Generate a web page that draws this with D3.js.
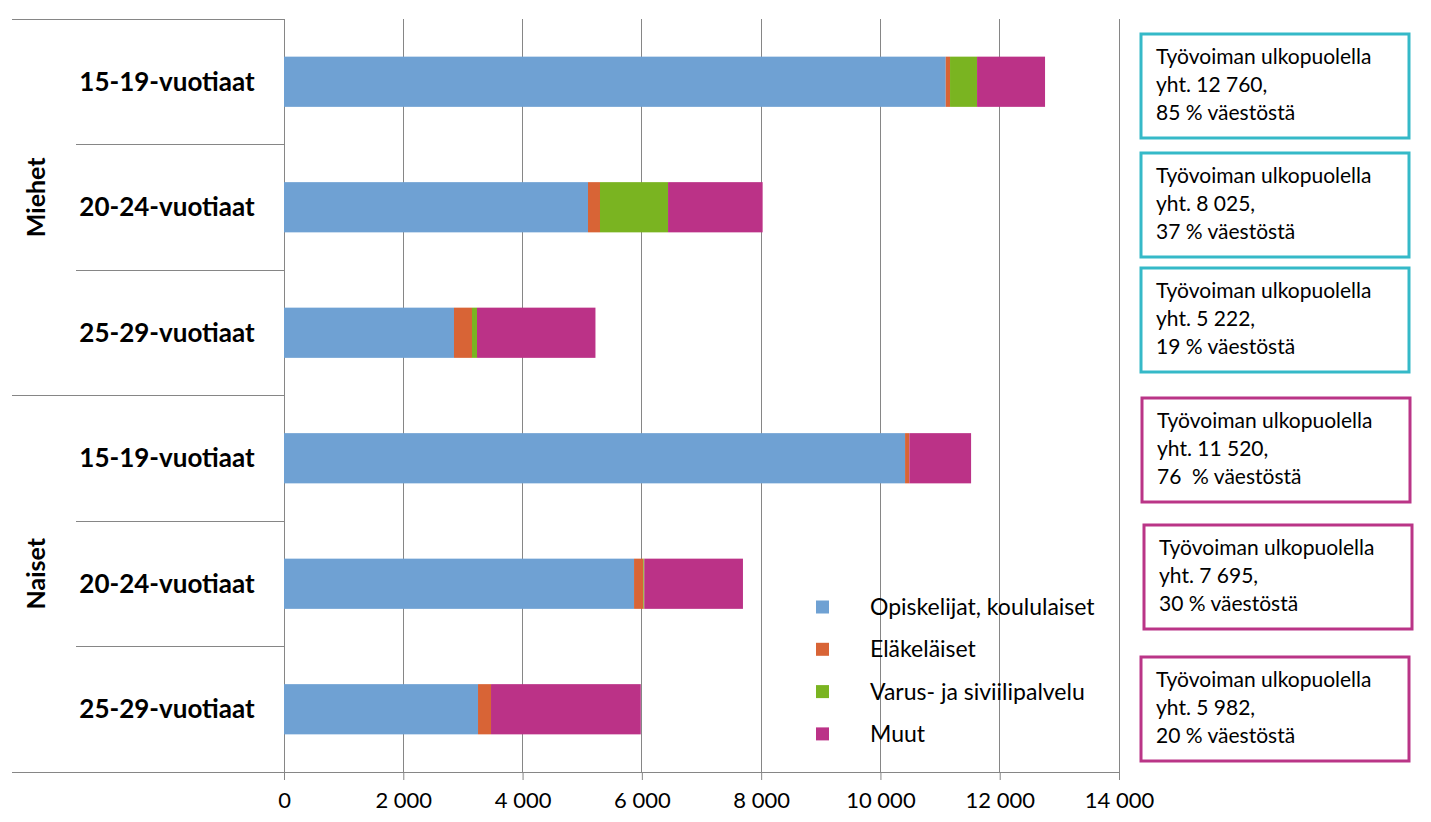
<!DOCTYPE html>
<html><head><meta charset="utf-8">
<script src="https://cdn.jsdelivr.net/npm/d3@7/dist/d3.min.js"></script>
<style>body{margin:0;background:#fff}svg{display:block}text{font-family:Lato,"Liberation Sans",sans-serif}</style>
</head><body><svg id="c" width="1431" height="822"></svg>
<script>
// ---- data ----
const groups = ["Miehet", "Naiset"];
const ageLabels = ["15-19-vuotiaat", "20-24-vuotiaat", "25-29-vuotiaat", "15-19-vuotiaat", "20-24-vuotiaat", "25-29-vuotiaat"];
const rowGroup = ["Miehet", "Miehet", "Miehet", "Naiset", "Naiset", "Naiset"];
const seriesNames = ["Opiskelijat, koululaiset", "Eläkeläiset", "Varus- ja siviilipalvelu", "Muut"];
const opiskelijat = [11095, 5097, 2850, 10413, 5869, 3253];
const elakelaiset = [72, 201, 302, 72, 156, 218];
const varus = [453, 1141, 84, 0, 15, 0];
const muut = [1140, 1586, 1986, 1035, 1655, 2511];
const seriesColors = ["#6fa1d3", "#d86436", "#7ab421", "#bb3287"];
const xTicks = [0, 2000, 4000, 6000, 8000, 10000, 12000, 14000];
const boxLine1 = ["Työvoiman ulkopuolella", "Työvoiman ulkopuolella", "Työvoiman ulkopuolella", "Työvoiman ulkopuolella", "Työvoiman ulkopuolella", "Työvoiman ulkopuolella"];
const boxLine2 = ["yht. 12 760,", "yht. 8 025,", "yht. 5 222,", "yht. 11 520,", "yht. 7 695,", "yht. 5 982,"];
const boxLine3 = ["85 % väestöstä", "37 % väestöstä", "19 % väestöstä", "76  % väestöstä", "30 % väestöstä", "20 % väestöstä"];
const boxColors = ["#35b9c8", "#35b9c8", "#35b9c8", "#ba3587", "#ba3587", "#ba3587"];

// ---- layout ----
const svg = d3.select("#c");
const L = 284, R = 1119, T = 19, B = 772;
const x = d3.scaleLinear().domain([0, 14000]).range([L, R]);
const rows = d3.range(6);
const y = d3.scaleBand().domain(rows).range([T, B]).paddingInner(0.6).paddingOuter(0.3);
const step = y.step();
const gridCol = "#868686";

// gridlines
svg.append("g").selectAll("line").data(xTicks).join("line")
  .attr("x1", d => x(d)).attr("x2", d => x(d)).attr("y1", T).attr("y2", B)
  .attr("stroke", gridCol).attr("stroke-width", 1).attr("shape-rendering", "crispEdges");

// stacked bars
const table = rows.map(i => ({row: i, v: [opiskelijat[i], elakelaiset[i], varus[i], muut[i]]}));
const stack = d3.stack().keys([0, 1, 2, 3]).value((d, k) => d.v[k]);
const stacked = stack(table);
svg.append("g").selectAll("g").data(stacked).join("g")
  .attr("fill", (d, i) => seriesColors[i])
  .selectAll("rect").data(d => d).join("rect")
  .attr("x", d => x(d[0])).attr("width", d => x(d[1]) - x(d[0]))
  .attr("y", d => y(d.data.row)).attr("height", y.bandwidth());

// x axis
const ax = svg.append("g").attr("transform", `translate(0,${B})`)
  .call(d3.axisBottom(x).tickValues(xTicks).tickSize(8).tickPadding(12)
    .tickFormat(d => d3.format(",")(d).replace(/,/g, " ")));
ax.select(".domain").remove();
ax.selectAll(".tick line").attr("stroke", gridCol);
ax.selectAll(".tick text").attr("font-size", 22).attr("fill", "#000")
  .style("font-family", "Lato, sans-serif").style("white-space", "pre");

// table lines on left
const lineG = svg.append("g").attr("stroke", gridCol).attr("shape-rendering", "crispEdges");
lineG.append("line").attr("x1", 12).attr("x2", L).attr("y1", T).attr("y2", T);
lineG.append("line").attr("x1", 12).attr("x2", R).attr("y1", B).attr("y2", B);
rows.slice(1).forEach(i => {
  const yy = T + i * step;
  lineG.append("line").attr("x1", i === 3 ? 12 : 76).attr("x2", L).attr("y1", yy).attr("y2", yy);
});

// category labels
svg.append("g").selectAll("text").data(rows).join("text")
  .attr("x", 167).attr("y", i => y(i) + y.bandwidth() / 2)
  .attr("dy", "0.35em").attr("text-anchor", "middle")
  .attr("font-size", 26).attr("font-weight", "bold").text(i => ageLabels[i]);

// group labels
groups.forEach((g, gi) => {
  const idx = rows.filter(i => rowGroup[i] === g);
  const cy = (T + idx[0] * step + T + (idx[idx.length - 1] + 1) * step) / 2 - 10;
  svg.append("text").attr("transform", `translate(36,${cy}) rotate(-90)`)
    .attr("dy", "0.35em").attr("text-anchor", "middle")
    .attr("font-size", 25).attr("font-weight", "bold").text(g);
});

// legend
const leg = svg.append("g").selectAll("g").data(seriesNames).join("g")
  .attr("transform", (d, i) => `translate(816,${607 + i * 42.3})`);
leg.append("rect").attr("x", 0).attr("y", -6.5).attr("width", 13).attr("height", 13)
  .attr("fill", (d, i) => seriesColors[i]);
leg.append("text").attr("x", 54).attr("dy", "0.35em").attr("font-size", 23).text(d => d);

// annotation boxes
const boxX = [1141, 1141, 1141, 1142, 1144, 1141];
const boxY = [34, 153, 268, 398, 525, 657];
const bg = svg.append("g").selectAll("g").data(rows).join("g")
  .attr("transform", i => `translate(${boxX[i]},${boxY[i]})`);
bg.append("rect").attr("width", 268).attr("height", 104).attr("fill", "#fff")
  .attr("stroke", i => boxColors[i]).attr("stroke-width", 3);
[boxLine1, boxLine2, boxLine3].forEach((arr, k) => {
  bg.append("text").attr("x", 15).attr("y", 30 + k * 28).attr("font-size", 21)
    .style("white-space", "pre").text(i => arr[i]);
});
</script></body></html>
